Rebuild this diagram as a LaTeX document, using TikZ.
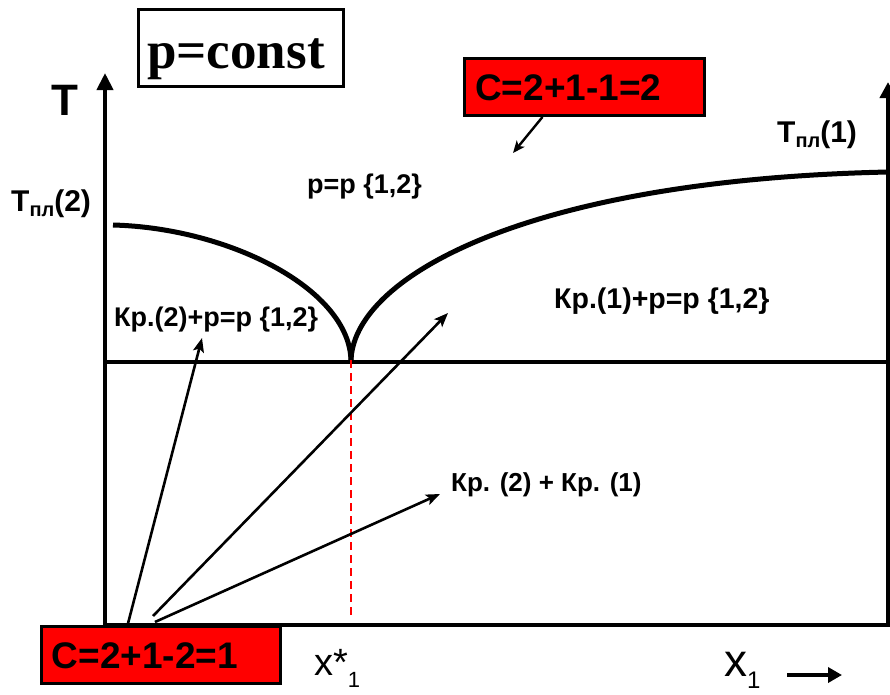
\documentclass[tikz,border=0pt]{standalone}
\usepackage{fontspec}
\setmainfont{Liberation Sans}
\newfontfamily\serifbold{Liberation Serif}
\usetikzlibrary{arrows.meta,calc}
\begin{document}
\begin{tikzpicture}[x=1pt,y=-1pt,
  axisline/.style={line width=4pt},
  curveline/.style={line width=5pt},
  thinarrow/.style={line width=2.6pt,-{Stealth[length=14pt,width=11pt,inset=3pt]}},
  redbox/.style={draw=black,line width=3pt,fill=red,inner sep=0pt},
  lbl/.style={inner sep=0pt,anchor=base west,font=\bfseries},
  fs/.style={font=\bfseries\fontsize{#1}{#1}\selectfont}]
\useasboundingbox (0,0) rectangle (890,694);
% axes
\coordinate (O) at (105,625);
\coordinate (Ytop) at (105,73);
\coordinate (R) at (888,625);
\coordinate (Rtop) at (888,82);
\draw[axisline,{Triangle[length=16pt,width=16pt]}-{Triangle[length=17pt,width=16pt]}] (Rtop) -- (R) -- (O) -- (Ytop);
% eutectic line
\coordinate (L) at (105,362);
\coordinate (Rr) at (888,362);
\coordinate (E) at (351,362);
\draw[axisline] (L) -- (Rr);
% liquidus curves
\coordinate (A2) at (113,225);
\coordinate (A1) at (888,172);
\draw[curveline] (A2) .. controls (230,228) and (351,290) .. (E);
\draw[curveline] (E) .. controls (351,280) and (520,180) .. (A1);
% dashed line
\coordinate (Ed) at (351,615);
\draw[red,line width=2pt,dash pattern=on 8pt off 5pt] ([yshift=2pt]E) -- (Ed);
% p=const box
\node[draw,line width=3pt,fill=white,minimum width=205pt,minimum height=77pt,inner sep=0pt] (pcbox) at (241,48) {};
\node[inner sep=0pt,anchor=base,font={\serifbold\bfseries\fontsize{53}{55}\selectfont}] (pc) at (236,68) {p=const};
% top red box
\node[redbox,minimum width=240pt,minimum height=57pt] (c2box) at (584.5,87) {};
\node[lbl,fs=37] (c2) at (475,100) {C=2+1-1=2};
\coordinate (c2tip) at (513,153);
\draw[line width=2.4pt,-{Stealth[length=12pt,width=10pt,inset=3pt]}] ($(c2box.south west)!0.327!(c2box.south east)$) -- (c2tip);
% labels
\node[lbl,fs=44] (T) at (51,115) {T};
\node[lbl,fs=30] (tpl2) at (11,211) {T\raisebox{-5pt}{\fontsize{20}{20}\selectfont пл}(2)};
\node[lbl,fs=30] (tpl1) at (777,142) {T\raisebox{-5pt}{\fontsize{20}{20}\selectfont пл}(1)};
\node[lbl,fs=27] (liq) at (307,193) {р=р \{1,2\}};
\node[lbl,fs=27] (k2l) at (114,326) {Кр.(2)+р=р \{1,2\}};
\node[lbl,fs=28.5] (k1l) at (554,308) {Кр.(1)+р=р \{1,2\}};
\node[lbl,fs=26] (k12) at (451,491) {Кр. (2) + Кр. (1)};
\node[inner sep=0pt,anchor=base west,font=\fontsize{38}{40}\selectfont] (xstar) at (314,675) {x*\raisebox{-12pt}{\fontsize{22}{22}\selectfont 1}};
\node[inner sep=0pt,anchor=base west,font=\fontsize{46}{48}\selectfont] (xone) at (724,676) {x\raisebox{-12pt}{\fontsize{24}{24}\selectfont 1}};
\coordinate (xa0) at (787,675);
\coordinate (xa1) at (842,675);
\draw[line width=4pt,-{Triangle[length=14pt,width=15pt]}] (xa0) -- (xa1);
% bottom red box and arrows
\coordinate (t1) at (202,338);
\coordinate (t2) at (448,313);
\coordinate (t3) at (440,494);
\node[redbox,minimum width=239pt,minimum height=57pt] (c1box) at (161,655) {};
\draw[thinarrow] ($(c1box.north west)!0.362!(c1box.north east)$) -- (t1);
\draw[thinarrow] ($(c1box.north west)!0.467!(c1box.north east)+(0,-9)$) -- (t2);
\draw[thinarrow] ($(c1box.north west)!0.475!(c1box.north east)+(0,-3)$) -- (t3);
\node[lbl,fs=37] (c1) at (51.5,668) {C=2+1-2=1};
\end{tikzpicture}
\end{document}
